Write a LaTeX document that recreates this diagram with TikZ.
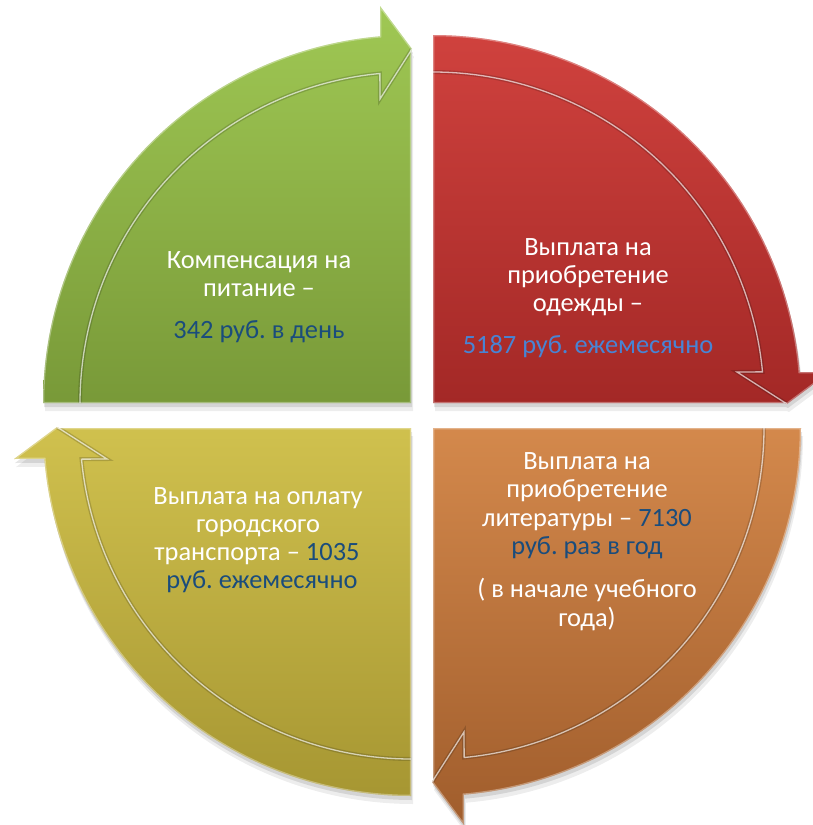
\documentclass[tikz,border=0pt]{standalone}
\usepackage{fontspec}
\setmainfont{Carlito}
\frenchspacing
\definecolor{gT}{RGB}{160,200,84}
\definecolor{gB}{RGB}{120,153,56}
\definecolor{rT}{RGB}{208,66,62}
\definecolor{rB}{RGB}{163,40,38}
\definecolor{yT}{RGB}{208,193,78}
\definecolor{yB}{RGB}{166,150,50}
\definecolor{oT}{RGB}{212,137,76}
\definecolor{oB}{RGB}{160,93,44}
\definecolor{dblue}{RGB}{26,76,124}
\definecolor{lblue}{RGB}{72,132,212}
\tikzset{
  qpath/.style={insert path={(0,0) -- (-368,0) -- plot[domain=180:265.2,samples=90] ({368*cos(\x)},{368*sin(\x)}) -- (-31,-397) -- (1,-354) -- (0,-352) -- cycle}},
  qinner/.style={insert path={plot[domain=180:264.6,samples=90] ({331*cos(\x)},{331*sin(\x)}) -- (-31,-304) -- (1,-354)}},
  lbl/.style={anchor=base, text=white, font=\fontsize{26.4}{29}\selectfont, inner sep=0pt},
}
\newcommand\drawquad[5]{%
  \fill[black,opacity=.07,shift={(#1)},shift={(2,8)},rotate=#2,qpath];
  \fill[black,opacity=.10,shift={(#1)},shift={(1,4)},rotate=#2,qpath];
  \begin{scope}
    \clip[shift={(#1)},rotate=#2,qpath];
    \shade[top color=#3,bottom color=#4] #5;
    \draw[black,opacity=.16,line width=4pt,shift={(#1)},rotate=#2,qinner];
    \draw[white,opacity=.65,line width=1.3pt,shift={(#1)},rotate=#2,qinner];
    \draw[white,opacity=.35,line width=2.5pt,shift={(#1)},rotate=#2,qpath];
  \end{scope}
}
\begin{document}
\begin{tikzpicture}[x=1pt,y=-1pt]
\useasboundingbox (0,0) rectangle (813,825);
\clip (0,0) rectangle (813,825);
\fill[white] (0,0) rectangle (813,825);
% quadrants
\drawquad{411,403}{0}{gT}{gB}{(30,5) rectangle (420,405)}
\drawquad{433,403}{-90}{rT}{rB}{(425,30) rectangle (813,405)}
\drawquad{433,428}{-180}{oT}{oB}{(425,425) rectangle (813,825)}
\drawquad{411,428}{90}{yT}{yB}{(0,425) rectangle (420,800)}
% green text
\node[lbl] (g1) at (259,268) {Компенсация на};
\node[lbl] (g2) at (259,296) {питание –};
\node[lbl,text=dblue] (g3) at (259,338) {342 руб. в день};
% red text
\node[lbl] (r1) at (588,255) {Выплата на};
\node[lbl] (r2) at (588,283) {приобретение};
\node[lbl] (r3) at (588,311) {одежды –};
\node[lbl,text=lblue] (r4) at (588,353) {5187 руб. ежемесячно};
% yellow text
\node[lbl] (y1) at (258,504) {Выплата на оплату};
\node[lbl] (y2) at (258,532) {городского};
\node[lbl] (y3) at (257,560) {транспорта – \textcolor{dblue}{1035}};
\node[lbl,text=dblue] (y4) at (262,588) {руб. ежемесячно};
% orange text
\node[lbl] (o1) at (587,469) {Выплата на};
\node[lbl] (o2) at (587,497.5) {приобретение};
\node[lbl] (o3) at (587,526) {литературы – \textcolor{dblue}{7130}};
\node[lbl,text=dblue] (o4) at (587,554.5) {руб. раз в год};
\node[lbl] (o5) at (587,597.5) {( в начале учебного};
\node[lbl] (o6) at (587,626) {года)};
\end{tikzpicture}
\end{document}
